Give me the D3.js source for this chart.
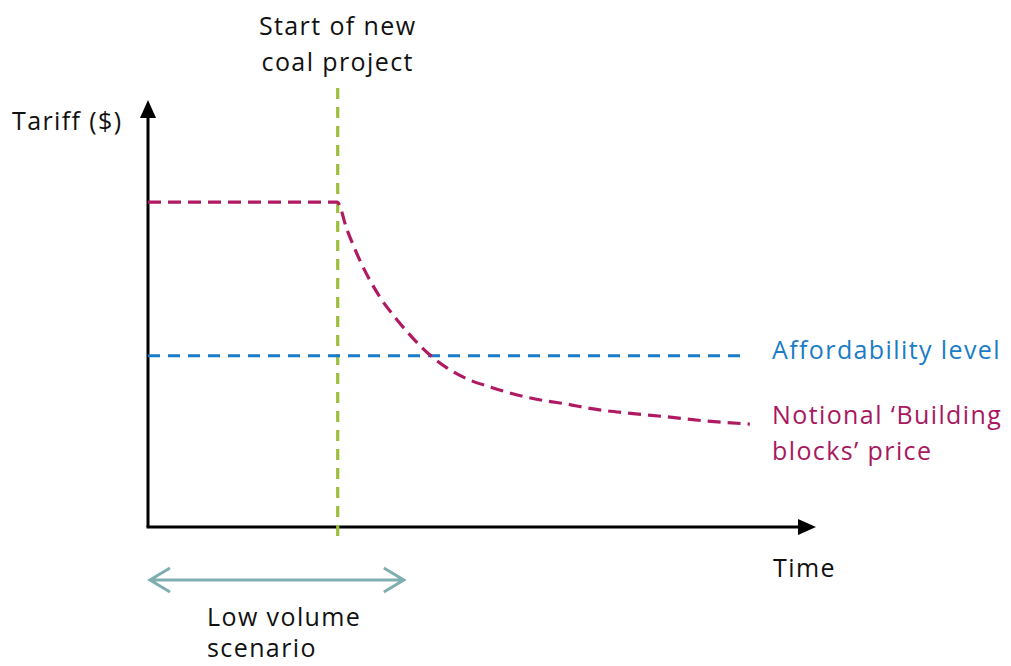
<!DOCTYPE html>
<html>
<head>
<meta charset="utf-8">
<script src="https://cdn.jsdelivr.net/npm/d3@7"></script>
<style>
  body { margin: 0; background: #fff; }
  text { font-family: "Open Sans", Lato, sans-serif; letter-spacing: 1.4px; }
</style>
</head>
<body>
<div id="chart"></div>
<script>
// notional values, time and tariff both on a 0-100 scale
const priceTime = [0, 28.3, 29.8, 31.7, 34.7, 37.3, 42.2, 44.8, 48.2, 51.2, 53.7, 56.7, 59.7, 62.7, 65.7, 68.7, 71.7, 77.7, 83.7, 90.1];
const priceTariff = [76.1, 76.1, 69.6, 62.5, 53.9, 48.5, 40.3, 37.2, 34.4, 32.8, 31.6, 30.4, 29.5, 28.8, 27.9, 27.2, 26.7, 25.8, 24.8, 24.1];
const affordTime = [0, 89.8];
const affordTariff = [40.1, 40.1];
const projectStart = 28.4;
const lowVolume = [0.3, 38.3];

const width = 1011;
const height = 666;
const margin = { top: 100, right: 195, bottom: 139, left: 148 };

const x = d3.scaleLinear().domain([0, 100]).range([margin.left, width - margin.right]);
const y = d3.scaleLinear().domain([0, 100]).range([height - margin.bottom, margin.top]);

const svg = d3.select('#chart')
  .append('svg')
  .attr('width', width)
  .attr('height', height);

const line = d3.line()
  .x((d) => x(d[0]))
  .y((d) => y(d[1]));

// axes with solid arrowheads
svg.append('path')
  .attr('d', `M${x(0)},${y(0)}V${y(100) + 16}`)
  .attr('stroke', '#000').attr('stroke-width', 3).attr('fill', 'none');
svg.append('path')
  .attr('d', `M${x(0) - 8},${y(100) + 18}L${x(0)},${y(100)}L${x(0) + 8},${y(100) + 18}Z`)
  .attr('fill', '#000');
svg.append('path')
  .attr('d', `M${x(0) - 1.5},${y(0)}H${x(100) - 16}`)
  .attr('stroke', '#000').attr('stroke-width', 3).attr('fill', 'none');
svg.append('path')
  .attr('d', `M${x(100) - 18},${y(0) - 8}L${x(100)},${y(0)}L${x(100) - 18},${y(0) + 8}Z`)
  .attr('fill', '#000');

// start of project marker
svg.append('line')
  .attr('x1', x(projectStart)).attr('x2', x(projectStart))
  .attr('y1', 88).attr('y2', y(0) + 9)
  .attr('stroke', '#9dbd3c').attr('stroke-width', 3.2)
  .attr('stroke-dasharray', '11,8');

// affordability level
svg.append('path')
  .attr('d', line(affordTime.map((t, i) => [t, affordTariff[i]])))
  .attr('stroke', '#1a7cc6').attr('stroke-width', 3.2).attr('fill', 'none')
  .attr('stroke-dasharray', '12,8');

// building blocks price
svg.append('path')
  .attr('d', line.curve(d3.curveMonotoneX)(priceTime.map((t, i) => [t, priceTariff[i]])))
  .attr('stroke', '#b01a62').attr('stroke-width', 3.2).attr('fill', 'none')
  .attr('stroke-dasharray', '13,7');

// low volume double arrow
const ay = y(0) + 53;
const ax0 = x(lowVolume[0]);
const ax1 = x(lowVolume[1]);
svg.append('path')
  .attr('d', `M${ax0},${ay}H${ax1}M${ax0 + 20},${ay - 12}L${ax0},${ay}L${ax0 + 20},${ay + 12}M${ax1 - 20},${ay - 12}L${ax1},${ay}L${ax1 - 20},${ay + 12}`)
  .attr('stroke', '#7eaeb0').attr('stroke-width', 3).attr('fill', 'none');

// labels
const label = (lines, tx, ty, opts = {}) => {
  const t = svg.append('text')
    .attr('x', tx).attr('y', ty)
    .attr('font-size', 25)
    .attr('fill', opts.fill || '#111')
    .attr('text-anchor', opts.anchor || 'start');
  lines.forEach((s, i) => {
    t.append('tspan').attr('x', tx).attr('dy', i ? (opts.lh || 36) : 0).text(s);
  });
};

label(['Tariff ($)'], 12, 130);
label(['Start of new', 'coal project'], x(projectStart), 35, { anchor: 'middle' });
label(['Affordability level'], 772, y(affordTariff[1]) + 3, { fill: '#1a7cc6' });
label(['Notional \u2018Building', 'blocks\u2019 price'], 772, 424, { fill: '#a8185e' });
label(['Time'], 773, 577);
label(['Low volume', 'scenario'], 207, 626, { lh: 31 });
</script>
</body>
</html>
